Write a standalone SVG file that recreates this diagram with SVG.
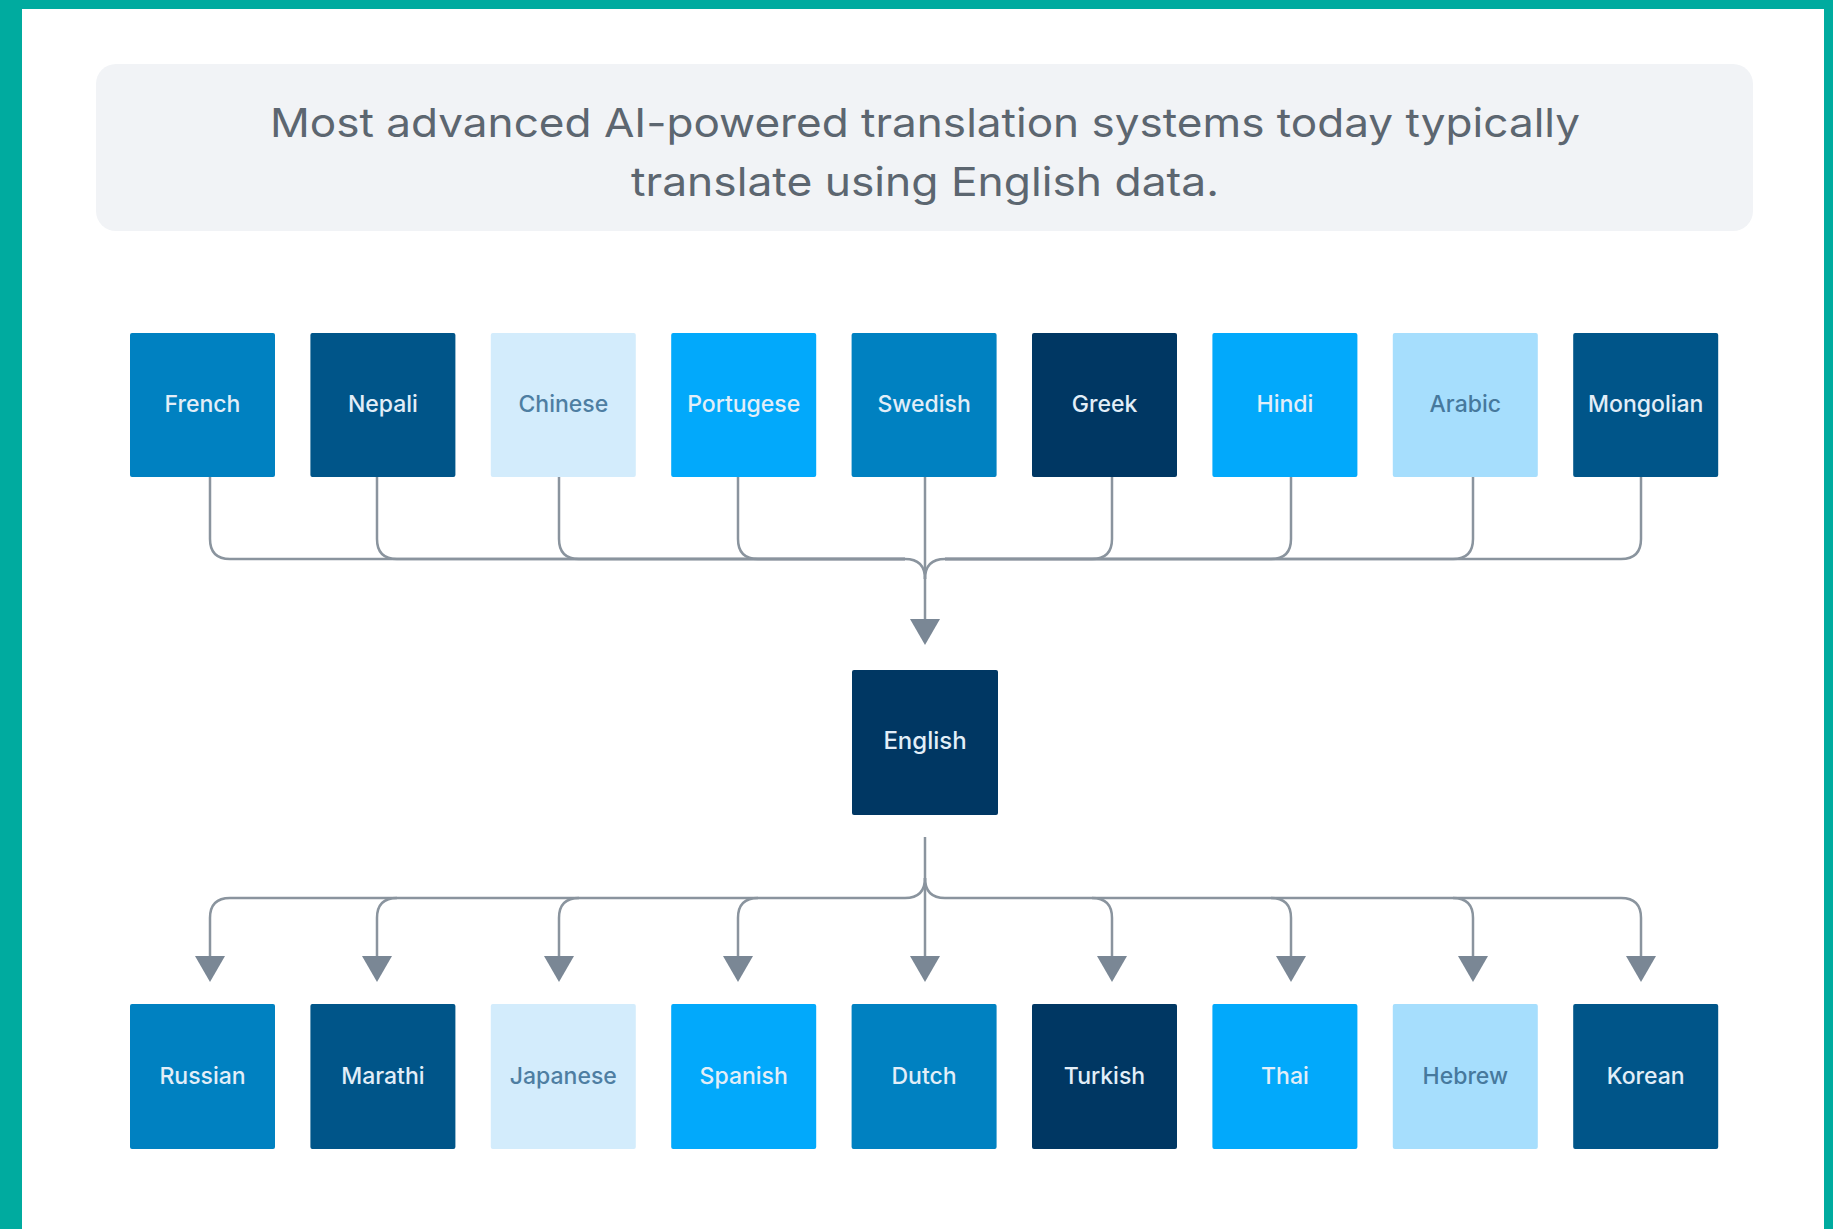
<svg xmlns="http://www.w3.org/2000/svg" width="1833" height="1229" viewBox="0 0 1833 1229">
<defs>
<style>
.bg{fill:#ffffff}
.teal{fill:#00ab9f}
.title{font-family:Inter,"Noto Sans","Liberation Sans",sans-serif;font-size:40px;fill:#5c6670;text-anchor:middle}
.lbl{font-family:Inter,"Noto Sans","Liberation Sans",sans-serif;font-size:23px;font-weight:500;text-anchor:middle;fill:#e2eef8}
.lbl.dk1{fill:#4e7ea2}
.lbl.dk2{fill:#46799d}
.c1{fill:#0081c1}
.c2{fill:#005589}
.c3{fill:#d3ecfc}
.c4{fill:#02a9fb}
.c5{fill:#003763}
.c6{fill:#a6defd}
.wire{fill:none;stroke:#8a949e;stroke-width:2.5}
.head{fill:#7a8795}
</style>
</defs>
<rect class="bg" x="0" y="0" width="1833" height="1229"/>
<rect class="teal" x="0" y="0" width="22" height="1229"/>
<rect class="teal" x="0" y="0" width="1833" height="9"/>
<rect class="teal" x="1824" y="0" width="9" height="1229"/>

<g id="title">
<rect x="96" y="64" width="1657" height="167" rx="20" fill="#f1f3f6"/>
<text class="title" x="925" y="137" textLength="1310" lengthAdjust="spacingAndGlyphs">Most advanced AI-powered translation systems today typically</text>
<text class="title" x="925" y="196" textLength="588" lengthAdjust="spacingAndGlyphs">translate using English data.</text>
</g>

<g id="connectors">
<path class="wire" d="M210,477 V539 Q210,559 230,559 H905 Q925,559 925,579"/>
<path class="wire" d="M377,477 V539 Q377,559 397,559 H905"/>
<path class="wire" d="M559,477 V539 Q559,559 579,559 H905"/>
<path class="wire" d="M738,477 V539 Q738,559 758,559 H905"/>
<path class="wire" d="M925,477 V620"/>
<path class="wire" d="M1641,477 V539 Q1641,559 1621,559 H945 Q925,559 925,579"/>
<path class="wire" d="M1473,477 V539 Q1473,559 1453,559 H945"/>
<path class="wire" d="M1291,477 V539 Q1291,559 1271,559 H945"/>
<path class="wire" d="M1112,477 V539 Q1112,559 1092,559 H945"/>
<polygon class="head" points="910,619 940,619 925,645"/>

<path class="wire" d="M925,837 V957"/>
<path class="wire" d="M925,878 Q925,898 905,898 H230 Q210,898 210,918 V957"/>
<path class="wire" d="M397,898 Q377,898 377,918 V957"/>
<path class="wire" d="M579,898 Q559,898 559,918 V957"/>
<path class="wire" d="M758,898 Q738,898 738,918 V957"/>
<path class="wire" d="M925,878 Q925,898 945,898 H1621 Q1641,898 1641,918 V957"/>
<path class="wire" d="M1092,898 Q1112,898 1112,918 V957"/>
<path class="wire" d="M1271,898 Q1291,898 1291,918 V957"/>
<path class="wire" d="M1453,898 Q1473,898 1473,918 V957"/>
<polygon class="head" points="195,956 225,956 210,982"/>
<polygon class="head" points="362,956 392,956 377,982"/>
<polygon class="head" points="544,956 574,956 559,982"/>
<polygon class="head" points="723,956 753,956 738,982"/>
<polygon class="head" points="910,956 940,956 925,982"/>
<polygon class="head" points="1097,956 1127,956 1112,982"/>
<polygon class="head" points="1276,956 1306,956 1291,982"/>
<polygon class="head" points="1458,956 1488,956 1473,982"/>
<polygon class="head" points="1626,956 1656,956 1641,982"/>
</g>

<g id="n-french"><rect class="c1" x="130" y="333" width="145" height="144" rx="2"/><text class="lbl" x="202.5" y="412">French</text></g>
<g id="n-nepali"><rect class="c2" x="310.4" y="333" width="145" height="144" rx="2"/><text class="lbl" x="382.9" y="412">Nepali</text></g>
<g id="n-chinese"><rect class="c3" x="490.8" y="333" width="145" height="144" rx="2"/><text class="lbl dk1" x="563.3" y="412">Chinese</text></g>
<g id="n-portugese"><rect class="c4" x="671.2" y="333" width="145" height="144" rx="2"/><text class="lbl" x="743.7" y="412">Portugese</text></g>
<g id="n-swedish"><rect class="c1" x="851.6" y="333" width="145" height="144" rx="2"/><text class="lbl" x="924.1" y="412">Swedish</text></g>
<g id="n-greek"><rect class="c5" x="1032" y="333" width="145" height="144" rx="2"/><text class="lbl" x="1104.5" y="412">Greek</text></g>
<g id="n-hindi"><rect class="c4" x="1212.4" y="333" width="145" height="144" rx="2"/><text class="lbl" x="1284.9" y="412">Hindi</text></g>
<g id="n-arabic"><rect class="c6" x="1392.8" y="333" width="145" height="144" rx="2"/><text class="lbl dk2" x="1465.3" y="412">Arabic</text></g>
<g id="n-mongolian"><rect class="c2" x="1573.2" y="333" width="145" height="144" rx="2"/><text class="lbl" x="1645.7" y="412">Mongolian</text></g>

<g id="n-english"><rect class="c5" x="852" y="670" width="146" height="145" rx="2"/><text class="lbl" x="925" y="749" style="font-size:24px">English</text></g>

<g id="n-russian"><rect class="c1" x="130" y="1004" width="145" height="145" rx="2"/><text class="lbl" x="202.5" y="1084">Russian</text></g>
<g id="n-marathi"><rect class="c2" x="310.4" y="1004" width="145" height="145" rx="2"/><text class="lbl" x="382.9" y="1084">Marathi</text></g>
<g id="n-japanese"><rect class="c3" x="490.8" y="1004" width="145" height="145" rx="2"/><text class="lbl dk1" x="563.3" y="1084">Japanese</text></g>
<g id="n-spanish"><rect class="c4" x="671.2" y="1004" width="145" height="145" rx="2"/><text class="lbl" x="743.7" y="1084">Spanish</text></g>
<g id="n-dutch"><rect class="c1" x="851.6" y="1004" width="145" height="145" rx="2"/><text class="lbl" x="924.1" y="1084">Dutch</text></g>
<g id="n-turkish"><rect class="c5" x="1032" y="1004" width="145" height="145" rx="2"/><text class="lbl" x="1104.5" y="1084">Turkish</text></g>
<g id="n-thai"><rect class="c4" x="1212.4" y="1004" width="145" height="145" rx="2"/><text class="lbl" x="1284.9" y="1084">Thai</text></g>
<g id="n-hebrew"><rect class="c6" x="1392.8" y="1004" width="145" height="145" rx="2"/><text class="lbl dk2" x="1465.3" y="1084">Hebrew</text></g>
<g id="n-korean"><rect class="c2" x="1573.2" y="1004" width="145" height="145" rx="2"/><text class="lbl" x="1645.7" y="1084">Korean</text></g>
</svg>
